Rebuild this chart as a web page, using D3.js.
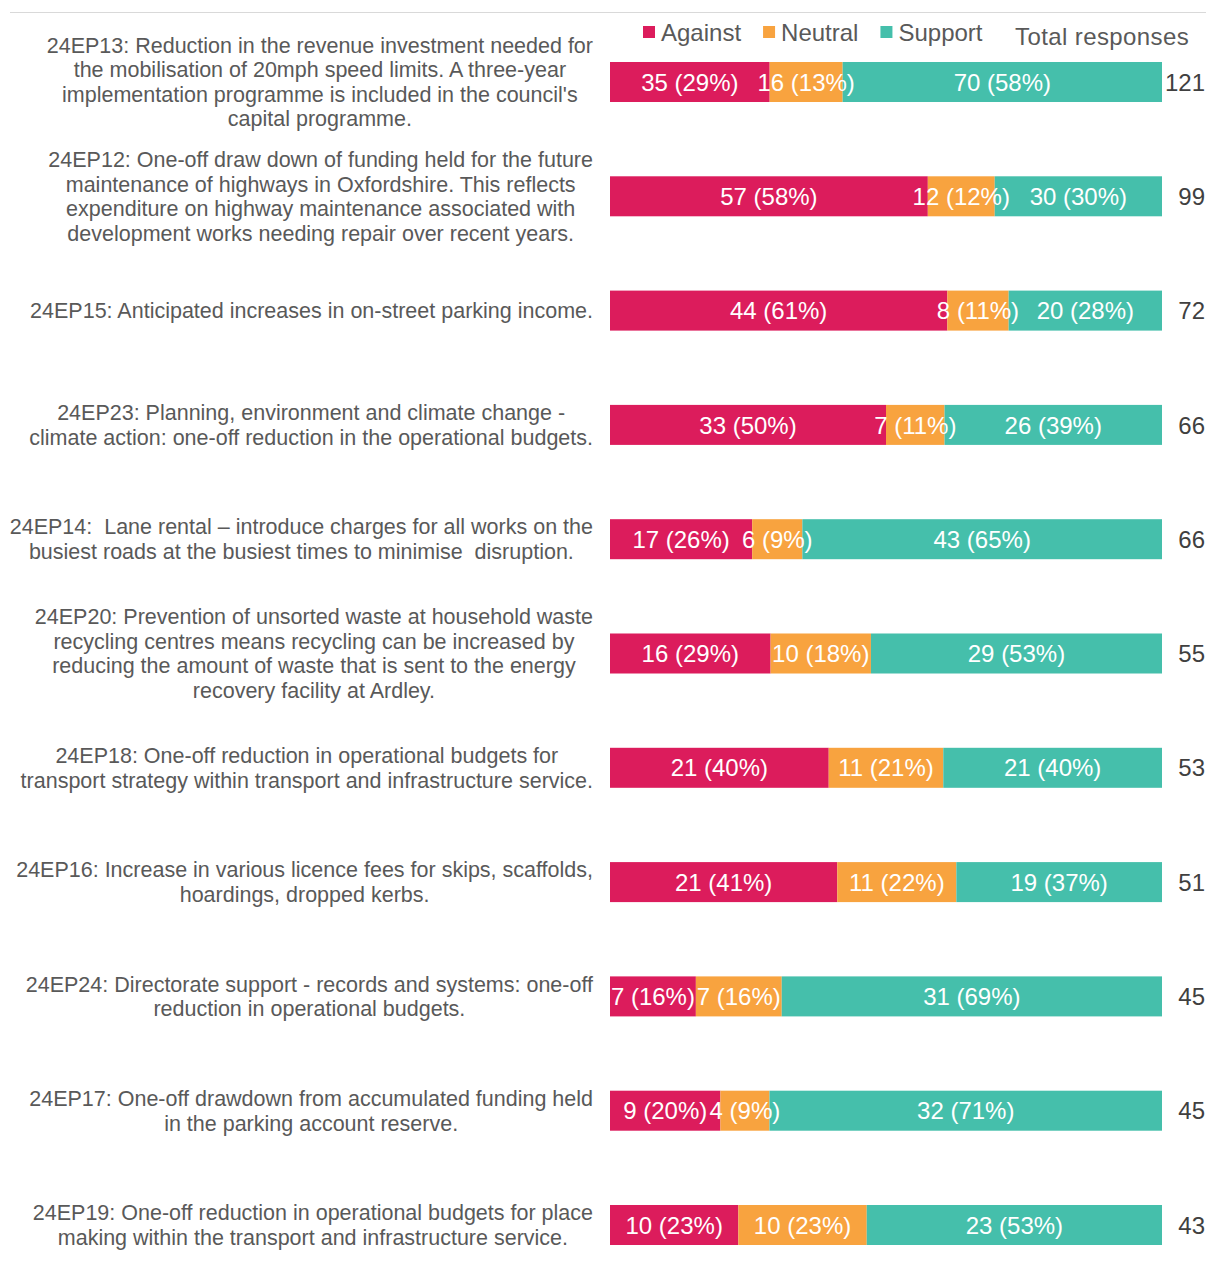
<!DOCTYPE html>
<html>
<head>
<meta charset="utf-8">
<script src="https://cdn.jsdelivr.net/npm/d3@7"></script>
<style>
  body { margin: 0; background: #fff; }
  svg { font-family: "Liberation Sans", Arial, sans-serif; }
</style>
</head>
<body>
<svg id="chart"></svg>
<script>
var labels = [
	["24EP13: Reduction in the revenue investment needed for", "the mobilisation of 20mph speed limits. A three-year", "implementation programme is included in the council's", "capital programme."],
	["24EP12: One-off draw down of funding held for the future", "maintenance of highways in Oxfordshire. This reflects", "expenditure on highway maintenance associated with", "development works needing repair over recent years."],
	["24EP15: Anticipated increases in on-street parking income."],
	["24EP23: Planning, environment and climate change -", "climate action: one-off reduction in the operational budgets."],
	["24EP14:  Lane rental \u2013 introduce charges for all works on the", "busiest roads at the busiest times to minimise  disruption."],
	["24EP20: Prevention of unsorted waste at household waste", "recycling centres means recycling can be increased by", "reducing the amount of waste that is sent to the energy", "recovery facility at Ardley."],
	["24EP18: One-off reduction in operational budgets for", "transport strategy within transport and infrastructure service."],
	["24EP16: Increase in various licence fees for skips, scaffolds,", "hoardings, dropped kerbs."],
	["24EP24: Directorate support - records and systems: one-off", "reduction in operational budgets."],
	["24EP17: One-off drawdown from accumulated funding held", "in the parking account reserve."],
	["24EP19: One-off reduction in operational budgets for place", "making within the transport and infrastructure service."]
];
var codes = ["24EP13", "24EP12", "24EP15", "24EP23", "24EP14", "24EP20", "24EP18", "24EP16", "24EP24", "24EP17", "24EP19"];
var against = [35, 57, 44, 33, 17, 16, 21, 21, 7, 9, 10];
var neutral = [16, 12, 8, 7, 6, 10, 11, 11, 7, 4, 10];
var support = [70, 30, 20, 26, 43, 29, 21, 19, 31, 32, 23];
var seriesNames = ["Against", "Neutral", "Support"];
var colors = ["#DC1C5C", "#F8A33F", "#45BFAB"];

var width = 1206, height = 1270;

var rows = codes.map(function(c, i) {
	var total = against[i] + neutral[i] + support[i];
	return { code: c, lines: labels[i], Against: against[i], Neutral: neutral[i], Support: support[i], total: total };
});

var svg = d3.select("#chart").attr("width", width).attr("height", height);

var x = d3.scaleLinear().domain([0, 1]).range([610, 1162]);
var y = d3.scaleBand()
	.domain(codes)
	.range([24.85, 1282.15])
	.paddingInner(0.65)
	.paddingOuter(0.325);

var stack = d3.stack().keys(seriesNames).offset(d3.stackOffsetExpand);
var stacked = stack(rows);

// top rule
svg.append("line")
	.attr("x1", 10).attr("x2", width)
	.attr("y1", 12.5).attr("y2", 12.5)
	.attr("stroke", "#d9d9d9");

// bars
var layers = svg.append("g").selectAll("g")
	.data(stacked)
	.enter().append("g")
	.attr("fill", function(d, i) { return colors[i]; });

layers.selectAll("rect")
	.data(function(d) { return d; })
	.enter().append("rect")
	.attr("x", function(d) { return x(d[0]); })
	.attr("width", function(d) { return x(d[1]) - x(d[0]); })
	.attr("y", function(d) { return y(d.data.code); })
	.attr("height", y.bandwidth());

// segment labels
var lab = svg.append("g").attr("fill", "#fff").attr("font-size", 24).attr("text-anchor", "middle");
stacked.forEach(function(layer) {
	lab.selectAll(null)
		.data(layer)
		.enter().append("text")
		.attr("x", function(d) { return (x(d[0]) + x(d[1])) / 2; })
		.attr("y", function(d) { return y(d.data.code) + y.bandwidth() / 2; })
		.attr("dy", "0.36em")
		.text(function(d) {
			var v = d.data[layer.key];
			return v + " (" + Math.round(v / d.data.total * 100) + "%)";
		});
});

// totals
svg.append("g").selectAll("text")
	.data(rows)
	.enter().append("text")
	.attr("x", 1205)
	.attr("y", function(d) { return y(d.code) + y.bandwidth() / 2; })
	.attr("dy", "0.36em")
	.attr("text-anchor", "end")
	.attr("font-size", 24)
	.attr("fill", "#404040")
	.text(function(d) { return d.total; });

// category labels: lines centred in a block whose right edge sits at 593
var lineH = 24.6;
var cats = svg.append("g").attr("font-size", 21.5).attr("fill", "#595959");
rows.forEach(function(r) {
	var g = cats.append("g");
	var cy = y(r.code) + y.bandwidth() / 2;
	var n = r.lines.length;
	var texts = g.selectAll("text")
		.data(r.lines)
		.enter().append("text")
		.attr("xml:space", "preserve")
		.attr("y", function(d, i) { return cy + (i - (n - 1) / 2) * lineH; })
		.attr("dy", "0.35em")
		.text(function(d) { return d; });
	var maxW = 0;
	texts.each(function() { maxW = Math.max(maxW, this.getComputedTextLength()); });
	texts.attr("text-anchor", "middle").attr("x", 593 - maxW / 2);
});

// legend
var leg = svg.append("g").attr("font-size", 24).attr("fill", "#595959");
var lx = 643;
seriesNames.forEach(function(name, i) {
	leg.append("rect")
		.attr("x", lx).attr("y", 26)
		.attr("width", 12).attr("height", 12)
		.attr("fill", colors[i]);
	var t = leg.append("text")
		.attr("x", lx + 18).attr("y", 41)
		.text(name);
	lx += 18 + t.node().getComputedTextLength() + 22;
});
svg.append("text")
	.attr("x", 1015).attr("y", 45)
	.attr("font-size", 24)
	.attr("letter-spacing", 0.4)
	.attr("fill", "#595959")
	.text("Total responses");
</script>
</body>
</html>
